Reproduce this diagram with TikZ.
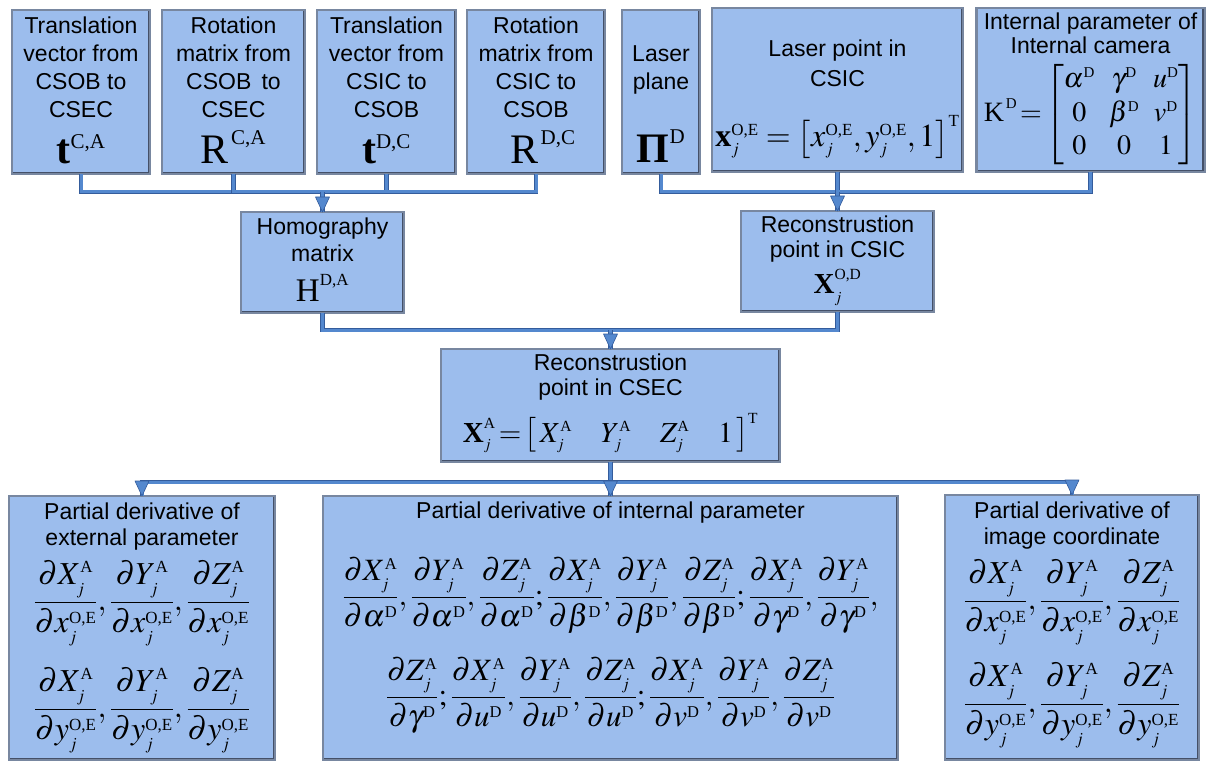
\documentclass[tikz,border=0pt]{standalone}
\usepackage{amsmath}
\usepackage{mathptmx}
\usepackage[no-math]{fontspec}
\setmainfont{Liberation Sans}
\newfontfamily\tnr{Liberation Serif}
\DeclareMathSizes{42}{42}{21}{15}
\DeclareMathSizes{33}{33}{17}{12}
\DeclareMathSizes{32}{32}{17}{12}
\DeclareMathSizes{31}{31}{16.5}{12}
\DeclareMathSizes{28}{28}{15}{11}
\DeclareMathSizes{29}{29}{15.5}{11}
\newcommand\rmT[1]{\text{\tnr #1}}
\newcommand\bfT[1]{\text{\tnr\bfseries #1}}
\newcommand\fsz[1]{\fontsize{#1}{#1}\selectfont}
\newcommand\boxin[4]{\begin{minipage}[c][#2pt][t]{#1pt}\centering\rule{0pt}{#3pt}#4\end{minipage}}
\newcommand\sj{_{\raisebox{-2pt}{$\scriptstyle j$}}}
\newcommand\pdv[2]{\dfrac{\partial #1\sj^{\rmT{A}}}{\partial #2}}
\newcommand\supOE{^{\rmT{O,E}}}
\newcommand\supDD{^{\rmT{D}}}
\definecolor{fillc}{RGB}{156,189,237}
\definecolor{bordc}{RGB}{120,135,160}
\definecolor{bevd}{RGB}{68,80,104}
\definecolor{connd}{RGB}{52,92,156}
\definecolor{connl}{RGB}{84,136,206}
\tikzset{
  box/.style={draw=bordc, fill=fillc, line width=2.2pt, inner sep=0pt, outer sep=0pt,
    font=\fontsize{23}{28}\selectfont},
  bevel/.style={draw=bevd, line width=1.3pt},
  conn/.style={draw=connd, line width=0.9pt, double=connl, double distance=3pt},
  tip/.style={fill=connl, draw=connd, line width=0.6pt, line join=round}
}
\begin{document}
\begin{tikzpicture}[x=1pt,y=-1pt]
\useasboundingbox (0,0) rectangle (1218,762);
% top row
\node[box] (t1) at (81,92) {\boxin{138}{164}{23.5}{Translation\\vector from\\CSOB to\\CSEC\\[18.5pt]\smash{\fsz{42}$\bfT{t}^{\rmT{C,A}}$}}};
\node[box] (r1) at (233.5,92) {\boxin{143}{164}{23.5}{Rotation\\matrix from\\CSOB\ \,to\\CSEC\\[18.5pt]\smash{\fsz{42}$\rmT{R}^{\,\rmT{C,A}}$}}};
\node[box] (t2) at (386.5,92) {\boxin{139}{164}{23.5}{Translation\\vector from\\CSIC to\\CSOB\\[18.5pt]\smash{\fsz{42}$\bfT{t}^{\rmT{D,C}}$}}};
\node[box] (r2) at (536,92) {\boxin{138}{164}{23.5}{Rotation\\matrix from\\CSIC to\\CSOB\\[18.5pt]\smash{\fsz{42}\hspace{14pt}$\rmT{R}^{\,\rmT{D,C}}$}}};
\node[box] (lp) at (661,92) {\boxin{78}{164}{52}{Laser\\plane\\[45pt]\smash{\fsz{42}$\bfT{Π}^{\rmT{D}}$}}};
\node[box] (lpt) at (837.5,90) {\boxin{251}{164}{49}{Laser point in\\[2pt]CSIC\\[32pt]\smash{\fsz{32}$\bfT{x}_j\supOE=\left[x_j\supOE,y_j\supOE,1\right]^{\rmT{T}}$}}};
\node[box] (K) at (1090.5,90) {\boxin{228}{164}{22}{Internal parameter of\\[-4pt]Internal camera\\[39.5pt]\smash{\fsz{28}\renewcommand\arraystretch{1.2}\setlength\arraycolsep{7pt}$\rmT{K}^{\,\rmT{D}}\!=\!\begin{bmatrix}\alpha\supDD&\gamma\supDD&u\supDD\\0&\beta\supDD&v\supDD\\0&0&1\end{bmatrix}$}}};
% middle
\node[box] (hom) at (322.5,262.5) {\boxin{163}{101}{22}{Homography\\matrix\\[11pt]\smash{\fsz{33}$\rmT{H}^{\rmT{D,A}}$}}};
\node[box] (csic) at (837.5,261.5) {\boxin{193}{101}{21}{Reconstrustion\\[-3pt]point in CSIC\\[8pt]\smash{\fsz{29}$\bfT{X}\sj^{\rmT{O,D}}$}}};
\node[box] (csec) at (610.5,405.5) {\boxin{339}{113}{21}{Reconstrustion\\[-3pt]point in CSEC\\[19pt]\smash{\fsz{29}$\bfT{X}_j^{\rmT{A}}\!=\!\left[\,X_j^{\rmT{A}}\quad Y_j^{\rmT{A}}\quad Z_j^{\rmT{A}}\quad 1\,\right]^{\rmT{T}}$}}};
% bottom
\node[box] (pl) at (142,628) {\boxin{266}{264}{23}{Partial derivative of\\[-2pt]external parameter\\[37.5pt]\smash{\fsz{32}$\pdv{X}{x\sj\supOE},\pdv{Y}{x\sj\supOE},\pdv{Z}{x\sj\supOE}$}\\[79pt]\smash{\fsz{32}$\pdv{X}{y\sj\supOE},\pdv{Y}{y\sj\supOE},\pdv{Z}{y\sj\supOE}$}}};
\node[box] (pm) at (610.5,628) {\boxin{575}{264}{22}{Partial derivative of internal parameter\\[59.5pt]\smash{\fsz{31}$\pdv{X}{\alpha\supDD},\pdv{Y}{\alpha\supDD},\pdv{Z}{\alpha\supDD};\pdv{X}{\beta\supDD},\pdv{Y}{\beta\supDD},\pdv{Z}{\beta\supDD};\pdv{X}{\gamma\supDD},\pdv{Y}{\gamma\supDD},$}\\[72pt]\smash{\fsz{31}$\pdv{Z}{\gamma\supDD};\pdv{X}{u\supDD},\pdv{Y}{u\supDD},\pdv{Z}{u\supDD};\pdv{X}{v\supDD},\pdv{Y}{v\supDD},\pdv{Z}{v\supDD}$}}};
\node[box] (pr) at (1072,627.5) {\boxin{254}{265}{23}{Partial derivative of\\[-2pt]image coordinate\\[37.5pt]\smash{\fsz{32}$\pdv{X}{x\sj\supOE},\pdv{Y}{x\sj\supOE},\pdv{Z}{x\sj\supOE}$}\\[75pt]\smash{\fsz{32}$\pdv{X}{y\sj\supOE},\pdv{Y}{y\sj\supOE},\pdv{Z}{y\sj\supOE}$}}};
% bevel shading on right and bottom edges
\foreach \n in {t1,r1,t2,r2,lp,lpt,K,hom,csic,csec,pl,pm,pr}
  \draw[bevel] ([xshift=-1.6pt,yshift=-1pt]\n.north east) -- ([xshift=-1.6pt,yshift=1.6pt]\n.south east) -- ([xshift=1pt,yshift=1.6pt]\n.south west);
% junctions
\coordinate (jA) at (322.5,192);
\coordinate (jB) at (837.5,192);
\coordinate (jC) at (610.5,330);
\coordinate (jD) at (610.5,482);
% connectors
\foreach \n in {t1,r1,t2,r2} \draw[conn] (\n.south) |- (jA);
\draw[conn] (jA) -- (hom.north);
\foreach \n in {lp,lpt,K} \draw[conn] (\n.south) |- (jB);
\draw[conn] (jB) -- (csic.north);
\draw[conn] (hom.south) |- (jC);
\draw[conn] (csic.south) |- (jC);
\draw[conn] (jC) -- (csec.north);
\draw[conn] (csec.south) -- (jD);
\draw[conn] (jD) -| (pl.north);
\draw[conn] (jD) -| (pr.north);
\draw[conn] (jD) -- (pm.north);
\foreach \n in {hom,csic,csec,pl,pm,pr}
  \filldraw[tip] (\n.north) -- ++(-7pt,15pt) -- ++(14pt,0pt) -- cycle;
\end{tikzpicture}
\end{document}
